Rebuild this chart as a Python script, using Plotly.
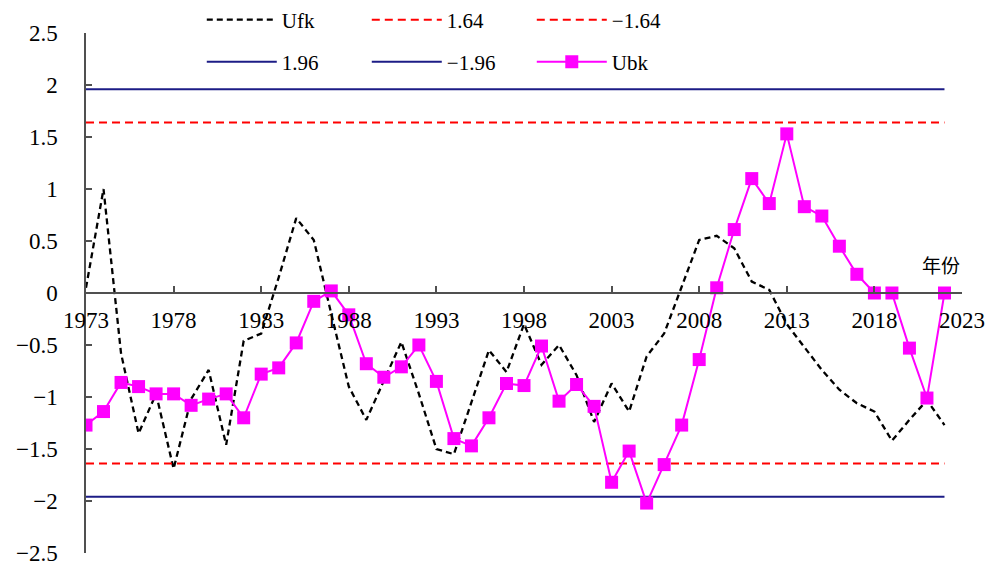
import plotly.graph_objects as go

# Mann-Kendall sequential statistics by year
years = list(range(1973, 2023))
ufk = [0.05, 1.00, -0.58, -1.35, -0.97, -1.69, -1.02, -0.74, -1.46, -0.46,
       -0.39, 0.15, 0.72, 0.51, -0.20, -0.90, -1.22, -0.84, -0.47, -0.97,
       -1.50, -1.55, -1.05, -0.55, -0.76, -0.30, -0.69, -0.50, -0.79, -1.24,
       -0.87, -1.14, -0.61, -0.39, 0.06, 0.51, 0.55, 0.43, 0.11, 0.03,
       -0.30, -0.52, -0.74, -0.93, -1.06, -1.14, -1.42, -1.22, -1.03, -1.27]
ubk = [-1.27, -1.14, -0.86, -0.90, -0.97, -0.97, -1.08, -1.02, -0.97, -1.20,
       -0.78, -0.72, -0.48, -0.08, 0.02, -0.21, -0.68, -0.81, -0.71, -0.50,
       -0.85, -1.40, -1.47, -1.20, -0.87, -0.89, -0.51, -1.04, -0.88, -1.09,
       -1.82, -1.52, -2.02, -1.65, -1.27, -0.64, 0.05, 0.61, 1.10, 0.86,
       1.53, 0.83, 0.74, 0.45, 0.18, 0.00, 0.00, -0.53, -1.01, 0.00]

# significance thresholds
crit_90 = 1.64
crit_95 = 1.96

x_ticks = list(range(1973, 2024, 5))
y_ticks = [2.5, 2, 1.5, 1, 0.5, 0, -0.5, -1, -1.5, -2, -2.5]
y_labels = ["2.5", "2", "1.5", "1", "0.5", "0", "\u22120.5", "\u22121",
            "\u22121.5", "\u22122", "\u22122.5"]

FONT = "Liberation Serif"
RED = "#ff0000"
NAVY = "#1c1c86"
MAGENTA = "#ff00ff"
AXIS = "#505050"

x_span = [years[0], years[-1]]

fig = go.Figure()

fig.add_trace(go.Scatter(x=years, y=ufk, name="Ufk", mode="lines",
                         line=dict(color="black", width=2.3, dash="6px,4px"),
                         legend="legend"))
fig.add_trace(go.Scatter(x=x_span, y=[crit_90, crit_90], name="1.64", mode="lines",
                         line=dict(color=RED, width=2, dash="8px,5px"),
                         legend="legend"))
fig.add_trace(go.Scatter(x=x_span, y=[-crit_90, -crit_90], name="\u22121.64", mode="lines",
                         line=dict(color=RED, width=2, dash="8px,5px"),
                         legend="legend"))
fig.add_trace(go.Scatter(x=x_span, y=[crit_95, crit_95], name="1.96", mode="lines",
                         line=dict(color=NAVY, width=2),
                         legend="legend2"))
fig.add_trace(go.Scatter(x=x_span, y=[-crit_95, -crit_95], name="\u22121.96", mode="lines",
                         line=dict(color=NAVY, width=2),
                         legend="legend2"))
fig.add_trace(go.Scatter(x=years, y=ubk, name="Ubk", mode="lines+markers",
                         line=dict(color=MAGENTA, width=2),
                         marker=dict(symbol="square", size=13, color=MAGENTA),
                         legend="legend2"))

legend_common = dict(orientation="h", xanchor="left", yanchor="middle",
                     xref="container", yref="container",
                     bgcolor="rgba(0,0,0,0)", font=dict(family=FONT, size=21, color="black"),
                     entrywidth=80, entrywidthmode="pixels", itemwidth=70,
                     traceorder="normal", itemclick=False)

fig.update_layout(
    width=994, height=566,
    margin=dict(l=86, r=32, t=33, b=13, autoexpand=False),
    plot_bgcolor="white", paper_bgcolor="white",
    font=dict(family=FONT, size=20, color="black"),
    showlegend=True,
    legend=dict(x=0.203, y=1 - 20 / 566, **legend_common),
    legend2=dict(x=0.203, y=1 - 62 / 566, **legend_common),
    xaxis=dict(range=[1973, 2023], tickvals=x_ticks, ticktext=[str(v) for v in x_ticks],
               showgrid=False, zeroline=False, showline=True, linecolor=AXIS, linewidth=1.5,
               ticks="inside", ticklen=6, tickcolor=AXIS, tickwidth=1.5,
               anchor="free", position=0.5, side="bottom", ticklabeloverflow="allow",
               tickfont=dict(family=FONT, size=23, color="black"), ticklabelstandoff=7),
    yaxis=dict(range=[-2.5, 2.5], tickvals=y_ticks, ticktext=y_labels,
               showgrid=False, zeroline=False, showline=True, linecolor=AXIS, linewidth=1.5,
               ticks="inside", ticklen=6, tickcolor=AXIS, tickwidth=1.5,
               ticklabeloverflow="allow",
               tickfont=dict(family=FONT, size=23, color="black"), ticklabelstandoff=22),
    annotations=[dict(x=2021.8, y=0.27, xref="x", yref="y", text="年份", showarrow=False,
                      font=dict(family="Noto Sans CJK SC", size=19, color="black"))],
)

fig.write_html("out.html")
